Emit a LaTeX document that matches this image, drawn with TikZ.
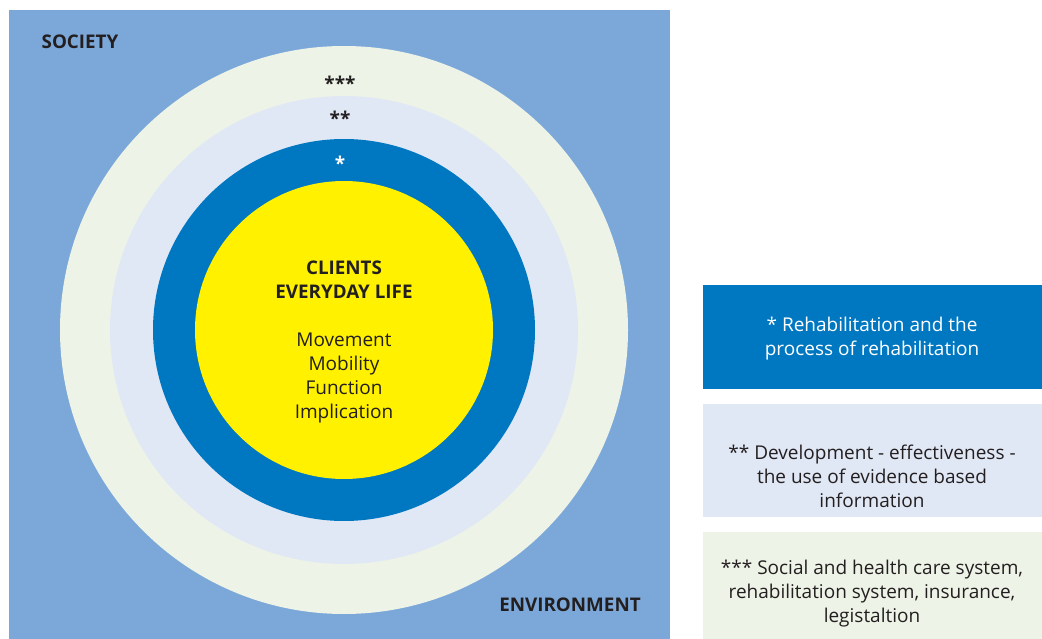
\documentclass[tikz,border=0pt]{standalone}
\usepackage{fontspec}
\setmainfont{Open Sans}
\definecolor{bgblue}{HTML}{7BA8D9}
\definecolor{ringgreen}{HTML}{EEF3E7}
\definecolor{ringlav}{HTML}{E1E8F5}
\definecolor{ringblue}{HTML}{0077C1}
\definecolor{coreyellow}{HTML}{FFF100}
\definecolor{ink}{HTML}{231F20}
\tikzset{
  ring/.style={circle, draw=none, inner sep=0pt},
  legend/.style={draw=none, inner sep=0pt, minimum width=339pt, text=ink, font=\fontsize{19}{24}\selectfont},
  legtext/.style={align=center, text=ink, font=\fontsize{19}{24}\selectfont},
  lbl/.style={text=ink, font=\fontsize{19}{24}\selectfont},
  bold/.style={text=ink, font=\fontsize{18.8}{24}\selectfont\bfseries}
}
\begin{document}
\begin{tikzpicture}[x=1pt,y=-1pt]
\useasboundingbox (0,0) rectangle (1042,639);
\fill[white] (0,0) rectangle (1042,639);
\node[fill=bgblue, draw=none, inner sep=0pt, minimum width=661pt, minimum height=629pt, anchor=north west] (society) at (9,10) {};
\node[ring, fill=ringgreen, minimum size=568pt] (r3) at (344,330) {};
\node[ring, fill=ringlav, minimum size=468pt] (r2) at (344,330) {};
\node[ring, fill=ringblue, minimum size=382pt] (r1) at (344,330) {};
\node[ring, fill=coreyellow, minimum size=298pt] (core) at (344,330) {};
\node[bold] (soc) at (80,42) {SOCIETY};
\node[bold] (env) at (570,605) {ENVIRONMENT};
\node[bold, font=\fontsize{19}{20}\selectfont\bfseries] (s3) at (340,83) {***};
\node[bold, font=\fontsize{19}{20}\selectfont\bfseries] (s2) at (340,118) {**};
\node[text=white, font=\fontsize{19}{20}\selectfont\bfseries] (s1) at (340,163) {*};
\node[bold, align=center] (title) at (344,280) {CLIENTS\\EVERYDAY LIFE};
\node[lbl, align=center] (items) at (344,378) {Movement\\Mobility\\Function\\Implication};
\node[legend, fill=ringblue, minimum height=104pt, anchor=north west] (l1) at (703,285) {};
\node[legend, fill=ringlav, minimum height=113pt, anchor=north west] (l2) at (703,404) {};
\node[legend, fill=ringgreen, minimum height=107pt, anchor=north west] (l3) at (703,532) {};
\node[legtext, text=white] (t1) at (872,339) {* Rehabilitation and the\\process of rehabilitation};
\node[legtext] (t2) at (872,476) {** Development - effectiveness -\\the use of evidence based\\information};
\node[legtext] (t3) at (872,594) {*** Social and health care system,\\rehabilitation system, insurance,\\legistaltion};
\end{tikzpicture}
\end{document}
